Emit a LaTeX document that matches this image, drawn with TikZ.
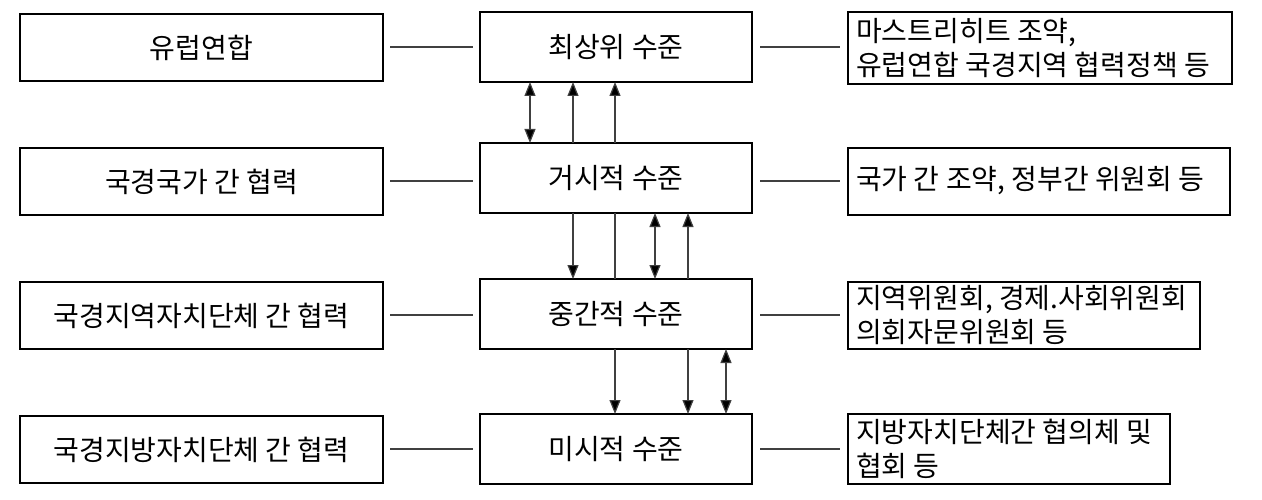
\documentclass[tikz,border=0pt]{standalone}
\usepackage{fontspec}
\setmainfont{Noto Sans CJK KR}
\usetikzlibrary{arrows.meta}
\begin{document}
\begin{tikzpicture}[x=1pt,y=-1pt,
  box/.style={draw,line width=1.6pt},
  tx/.style={font=\fontsize{28}{34}\selectfont,align=left},
  ln/.style={draw=black!75,line width=1.2pt},
  tip/.style={},
  ar/.style={ln,-{Triangle[length=14pt,width=11pt,fill=black]}},
  ba/.style={ln,{Triangle[length=14pt,width=11pt,fill=black]}-{Triangle[length=14pt,width=11pt,fill=black]}}]
\useasboundingbox (0,0) rectangle (1262,500);
\draw[box] (20,14) rectangle (383,81) node[midway,tx] (L1) {유럽연합};
\draw[box] (20,148) rectangle (383,215) node[midway,tx] (L2) {국경국가 간 협력};
\draw[box] (20,282) rectangle (383,349) node[midway,tx] (L3) {국경지역자치단체 간 협력};
\draw[box] (20,416) rectangle (383,483) node[midway,tx] (L4) {국경지방자치단체 간 협력};
\draw[box] (480,12) rectangle (752,82) node[midway,tx] (C1) {최상위 수준};
\draw[box] (480,143) rectangle (752,213) node[midway,tx] (C2) {거시적 수준};
\draw[box] (480,279) rectangle (752,349) node[midway,tx] (C3) {중간적 수준};
\draw[box] (480,414) rectangle (752,484) node[midway,tx] (C4) {미시적 수준};
\draw[box] (848,12) rectangle (1232,84);
\node[tx,anchor=west,inner sep=0] (R1) at (856,48) {마스트리히트 조약,\\유럽연합 국경지역 협력정책 등};
\draw[box] (848,148) rectangle (1230,215);
\node[tx,anchor=west,inner sep=0] (R2) at (856,181) {국가 간 조약, 정부간 위원회 등};
\draw[box] (848,282) rectangle (1200,349);
\node[tx,anchor=west,inner sep=0] (R3) at (856,315) {지역위원회, 경제.사회위원회\\의회자문위원회 등};
\draw[box] (848,414) rectangle (1170,484);
\node[tx,anchor=west,inner sep=0] (R4) at (856,449) {지방자치단체간 협의체 및\\협회 등};
\foreach \y in {47,181,315,449}{
 \draw[ln] (390,\y) -- (473,\y);
 \draw[ln] (760,\y) -- (840,\y);}
\draw[ba] (530,82) -- (530,143);
\draw[ar] (573,143) -- (573,82);
\draw[ar] (615,143) -- (615,82);
\draw[ar] (573,213) -- (573,279);
\draw[ln] (615,213) -- (615,279);
\draw[ba] (655,213) -- (655,279);
\draw[ar] (688,279) -- (688,213);
\draw[ar] (615,349) -- (615,414);
\draw[ar] (688,349) -- (688,414);
\draw[ba] (726,349) -- (726,414);
\end{tikzpicture}
\end{document}
